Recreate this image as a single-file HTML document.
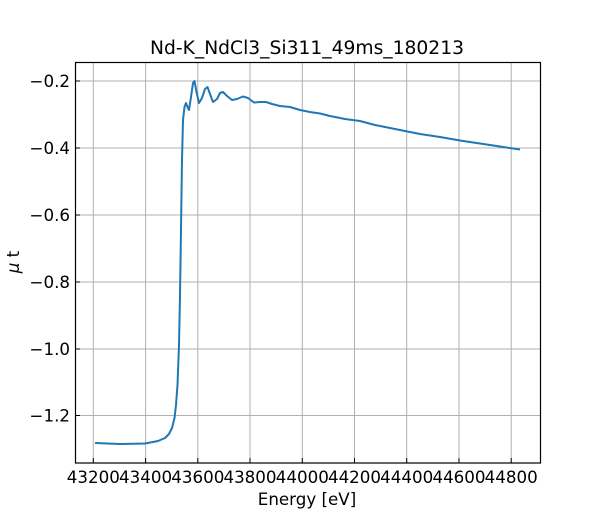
<!DOCTYPE html>
<html><head><meta charset="utf-8"><style>body{margin:0;background:#fff}svg{display:block}</style></head><body>
<svg width="600" height="520" xmlns="http://www.w3.org/2000/svg" font-family="DejaVu Sans, sans-serif">
<rect width="600" height="520" fill="#fff"/>
<g stroke="#b0b0b0" stroke-width="1">
<line x1="93.3" y1="62" x2="93.3" y2="463"/><line x1="145.6" y1="62" x2="145.6" y2="463"/><line x1="197.8" y1="62" x2="197.8" y2="463"/><line x1="250" y1="62" x2="250" y2="463"/><line x1="302.3" y1="62" x2="302.3" y2="463"/><line x1="354.5" y1="62" x2="354.5" y2="463"/><line x1="406.7" y1="62" x2="406.7" y2="463"/><line x1="459" y1="62" x2="459" y2="463"/><line x1="511.2" y1="62" x2="511.2" y2="463"/>
<line x1="75" y1="81" x2="540" y2="81"/><line x1="75" y1="148" x2="540" y2="148"/><line x1="75" y1="215" x2="540" y2="215"/><line x1="75" y1="282" x2="540" y2="282"/><line x1="75" y1="349" x2="540" y2="349"/><line x1="75" y1="415.5" x2="540" y2="415.5"/>
</g>
<polyline fill="none" stroke="#1f77b4" stroke-width="2" stroke-linejoin="round" points="95,443 120,444 145,443.5 158,441 165,438 169,434 172,428 174.5,418 176,405 177.5,385 179,345 180,295 181,230 182,160 183,120 184.5,107 186,103 187.5,107 189,110 191,97 193,83 194.5,81 196.5,92 199,103 202,98 205,89 207.5,87 210,94 213,102 217,99 220,93 223,92 227,96 232,100 237,99 243,96.5 248,98 254,102.5 260,102 266,102 272,104 280,106 290,107 300,110 310,112 320,113.5 330,116 345,119 360,121 375,125 390,128 405,131 420,134 440,137 460,140.5 480,143.5 500,146.5 520,149.5"/>
<rect x="75.5" y="62.5" width="465" height="400.5" fill="none" stroke="#000" stroke-width="1.2"/>
<g stroke="#000" stroke-width="1">
<line x1="93.3" y1="463" x2="93.3" y2="458"/><line x1="145.6" y1="463" x2="145.6" y2="458"/><line x1="197.8" y1="463" x2="197.8" y2="458"/><line x1="250" y1="463" x2="250" y2="458"/><line x1="302.3" y1="463" x2="302.3" y2="458"/><line x1="354.5" y1="463" x2="354.5" y2="458"/><line x1="406.7" y1="463" x2="406.7" y2="458"/><line x1="459" y1="463" x2="459" y2="458"/><line x1="511.2" y1="463" x2="511.2" y2="458"/>
<line x1="75" y1="81" x2="80" y2="81"/><line x1="75" y1="148" x2="80" y2="148"/><line x1="75" y1="215" x2="80" y2="215"/><line x1="75" y1="282" x2="80" y2="282"/><line x1="75" y1="349" x2="80" y2="349"/><line x1="75" y1="415.5" x2="80" y2="415.5"/>
</g>
<g font-size="16.7" fill="#000" text-anchor="middle">
<text x="93.3" y="483">43200</text><text x="145.6" y="483">43400</text><text x="197.8" y="483">43600</text><text x="250" y="483">43800</text><text x="302.3" y="483">44000</text><text x="354.5" y="483">44200</text><text x="406.7" y="483">44400</text><text x="459" y="483">44600</text><text x="511.2" y="483">44800</text>
</g>
<g font-size="16.7" fill="#000" text-anchor="end">
<text x="70" y="87">−0.2</text><text x="70" y="154">−0.4</text><text x="70" y="221">−0.6</text><text x="70" y="288">−0.8</text><text x="70" y="355">−1.0</text><text x="70" y="421.5">−1.2</text>
</g>
<text x="307" y="505" font-size="16.7" text-anchor="middle">Energy [eV]</text>
<text x="19" y="262" font-size="16.7" text-anchor="middle" transform="rotate(-90 19 262)"><tspan font-style="italic">μ</tspan> t</text>
<text x="307" y="54" font-size="18.7" text-anchor="middle">Nd-K_NdCl3_Si311_49ms_180213</text>
</svg>
</body></html>
